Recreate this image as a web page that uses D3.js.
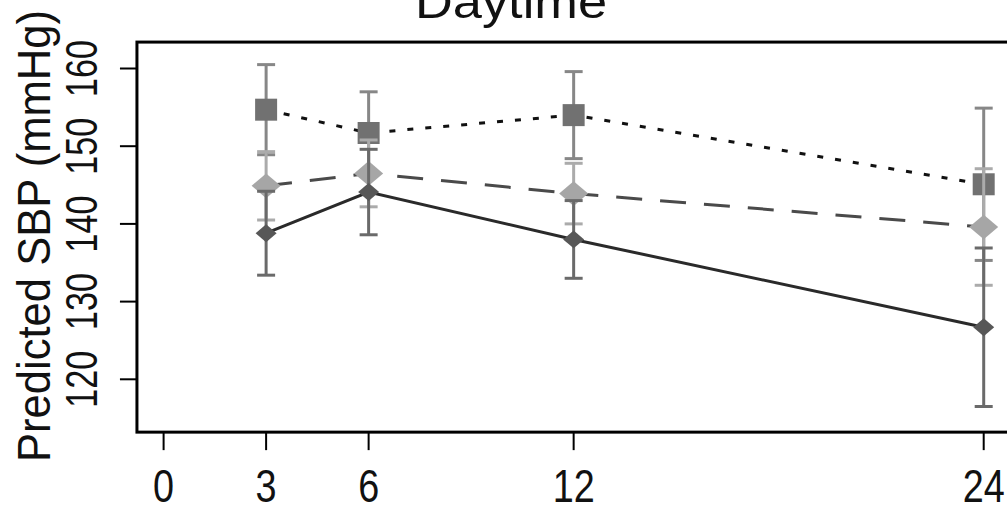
<!DOCTYPE html>
<html>
<head>
<meta charset="utf-8">
<script src="https://cdn.jsdelivr.net/npm/d3@7"></script>
<style>
  body { margin: 0; background: #fff; }
  text { font-family: "Liberation Sans", Arial, sans-serif; fill: #111; }
</style>
</head>
<body>
<div id="vis"></div>
<script>
var width = 1007;
var height = 512;

// data
var hours = [3, 6, 12, 24];
var xTicks = [0, 3, 6, 12, 24];
var yTicks = [120, 130, 140, 150, 160];

var sbpSquare = [154.7, 151.7, 154.0, 145.1];
var errSquare = [5.8, 5.3, 5.6, 9.8];

var sbpDiamond = [144.9, 146.5, 143.9, 139.6];
var errDiamond = [4.4, 4.3, 3.9, 7.5];

var sbpSmall = [138.8, 144.1, 138.0, 126.7];
var errSmall = [5.4, 5.5, 5.0, 10.2];

var titleText = 'Daytime';
var yLabel = 'Predicted SBP (mmHg)';

var xScale = d3.scaleLinear().domain([0, 24]).range([163.6, 983.7]);
var yScale = d3.scaleLinear().domain([120, 160]).range([379.3, 68.5]);
var xlim = [-0.78, 24.78];
var ylim = [113.2, 163.4];

var series = [
  {vals: sbpSquare, err: errSquare, shape: 'square', size: 22, fill: '#717171',
   errColor: '#878787', lineColor: '#111', dash: '6,12'},
  {vals: sbpDiamond, err: errDiamond, shape: 'diamond', size: 29, fill: '#a6a6a6',
   errColor: '#ababab', lineColor: '#4a4a4a', dash: '26,18'},
  {vals: sbpSmall, err: errSmall, shape: 'diamond', size: 21, fill: '#575757',
   errColor: '#6a6a6a', lineColor: '#2a2a2a', dash: null}
];

var svg = d3.select('#vis').append('svg')
    .attr('width', width)
    .attr('height', height);

// title (cut at top like the original)
svg.append('text')
   .attr('x', 511)
   .attr('y', 18)
   .attr('text-anchor', 'middle')
   .attr('font-size', 47)
   .attr('textLength', 192)
   .attr('lengthAdjust', 'spacingAndGlyphs')
   .text(titleText);

// y axis title
svg.append('text')
   .attr('transform', 'translate(50, 236)rotate(-90)')
   .attr('text-anchor', 'middle')
   .attr('font-size', 46)
   .attr('textLength', 452)
   .attr('lengthAdjust', 'spacingAndGlyphs')
   .text(yLabel);

var plot = svg.append('g');

series.forEach(function(s) {
  var pts = hours.map(function(h, i) { return {x: h, y: s.vals[i], e: s.err[i]}; });

  var line = d3.line()
      .x(function(d) { return xScale(d.x); })
      .y(function(d) { return yScale(d.y); });

  var path = plot.append('path')
      .datum(pts)
      .attr('d', line)
      .attr('fill', 'none')
      .attr('stroke', s.lineColor)
      .attr('stroke-width', 3);
  if (s.dash) path.attr('stroke-dasharray', s.dash);

  var bars = plot.append('g').selectAll('g')
      .data(pts)
      .enter()
      .append('g')
      .attr('stroke', s.errColor)
      .attr('stroke-width', 3);
  bars.append('line')
      .attr('x1', function(d) { return xScale(d.x); })
      .attr('x2', function(d) { return xScale(d.x); })
      .attr('y1', function(d) { return yScale(d.y - d.e); })
      .attr('y2', function(d) { return yScale(d.y + d.e); });
  [-1, 1].forEach(function(sign) {
    bars.append('line')
        .attr('x1', function(d) { return xScale(d.x) - 9; })
        .attr('x2', function(d) { return xScale(d.x) + 9; })
        .attr('y1', function(d) { return yScale(d.y + sign * d.e); })
        .attr('y2', function(d) { return yScale(d.y + sign * d.e); });
  });

  var half = s.size / 2;
  plot.append('g').selectAll('path')
      .data(pts)
      .enter()
      .append('path')
      .attr('transform', function(d) {
        return 'translate(' + xScale(d.x) + ',' + yScale(d.y) + ')';
      })
      .attr('d', s.shape === 'square'
        ? 'M' + (-half) + ',' + (-half) + 'H' + half + 'V' + half + 'H' + (-half) + 'Z'
        : 'M0,' + (-half * 0.85) + 'L' + half + ',0L0,' + (half * 0.85) + 'L' + (-half) + ',0Z')
      .attr('fill', s.fill);
});

// box
var x0 = xScale(xlim[0]), x1 = xScale(xlim[1]);
var y0 = yScale(ylim[0]), y1 = yScale(ylim[1]);
svg.append('rect')
   .attr('x', x0)
   .attr('y', y1)
   .attr('width', x1 - x0)
   .attr('height', y0 - y1)
   .attr('fill', 'none')
   .attr('stroke', '#000')
   .attr('stroke-width', 3);

// x axis
var xAxis = svg.append('g');
xAxis.selectAll('line')
     .data(xTicks)
     .enter()
     .append('line')
     .attr('x1', function(d) { return xScale(d); })
     .attr('x2', function(d) { return xScale(d); })
     .attr('y1', y0)
     .attr('y2', y0 + 18)
     .attr('stroke', '#000')
     .attr('stroke-width', 2);
xAxis.selectAll('text')
     .data(xTicks)
     .enter()
     .append('text')
     .attr('x', function(d) { return xScale(d); })
     .attr('y', 502)
     .attr('text-anchor', 'middle')
     .attr('font-size', 47)
     .attr('textLength', function(d) { return String(d).length * 21; })
     .attr('lengthAdjust', 'spacingAndGlyphs')
     .text(function(d) { return d; });

// y axis
var yAxis = svg.append('g');
yAxis.selectAll('line')
     .data(yTicks)
     .enter()
     .append('line')
     .attr('x1', x0 - 17)
     .attr('x2', x0)
     .attr('y1', function(d) { return yScale(d); })
     .attr('y2', function(d) { return yScale(d); })
     .attr('stroke', '#000')
     .attr('stroke-width', 2);
yAxis.selectAll('text')
     .data(yTicks)
     .enter()
     .append('text')
     .attr('transform', function(d) { return 'translate(97,' + yScale(d) + ')rotate(-90)'; })
     .attr('text-anchor', 'middle')
     .attr('font-size', 45)
     .attr('textLength', function(d) { return String(d).length * 19; })
     .attr('lengthAdjust', 'spacingAndGlyphs')
     .text(function(d) { return d; });
</script>
</body>
</html>
